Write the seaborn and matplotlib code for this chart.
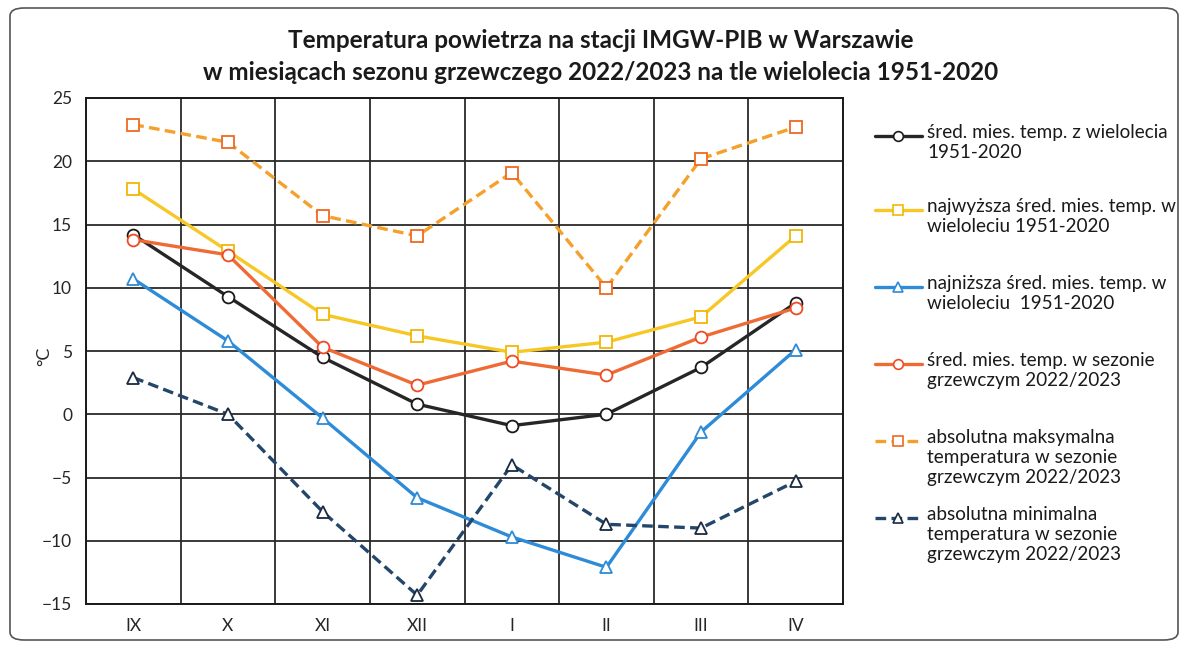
import numpy as np
import matplotlib
matplotlib.use('Agg')
import matplotlib.pyplot as plt
from matplotlib.lines import Line2D
from matplotlib.patches import FancyBboxPatch
import seaborn as sns

# dane
months = ['IX', 'X', 'XI', 'XII', 'I', 'II', 'III', 'IV']
mean_1951_2020 = [14.2, 9.3, 4.5, 0.8, -0.9, 0.0, 3.7, 8.8]
max_mean_1951_2020 = [17.8, 12.9, 7.9, 6.2, 4.9, 5.7, 7.7, 14.1]
min_mean_1951_2020 = [10.7, 5.8, -0.3, -6.6, -9.7, -12.1, -1.4, 5.1]
mean_2022_2023 = [13.8, 12.6, 5.3, 2.3, 4.2, 3.1, 6.1, 8.4]
abs_max_2022_2023 = [22.9, 21.5, 15.7, 14.1, 19.1, 10.0, 20.2, 22.7]
abs_min_2022_2023 = [2.9, 0.0, -7.7, -14.3, -4.0, -8.7, -9.0, -5.3]

labels = ['śred. mies. temp. z wielolecia\n1951-2020',
          'najwyższa śred. mies. temp. w\nwieloleciu 1951-2020',
          'najniższa śred. mies. temp. w\nwieloleciu  1951-2020',
          'śred. mies. temp. w sezonie\ngrzewczym 2022/2023',
          'absolutna maksymalna\ntemperatura w sezonie\ngrzewczym 2022/2023',
          'absolutna minimalna\ntemperatura w sezonie\ngrzewczym 2022/2023']

sns.set_style('white')
plt.rcParams['font.family'] = ['Lato', 'DejaVu Sans']

W, H = 1187, 648
fig = plt.figure(figsize=(W / 100, H / 100), dpi=100)
ax = fig.add_axes([86 / W, 1 - 604 / H, 757 / W, 506 / H])

x = np.arange(len(months))
dash = (0, (3.2, 1.6))

# (dane, kolor linii, kolor obwódki markera, marker, styl linii)
series = [
    (mean_1951_2020, '#262626', '#1a1a1a', 'o', '-'),
    (max_mean_1951_2020, '#F7C825', '#F2B705', 's', '-'),
    (min_mean_1951_2020, '#2D8BD8', '#2D8BD8', '^', '-'),
    (mean_2022_2023, '#EE6B35', '#EE4B22', 'o', '-'),
    (abs_max_2022_2023, '#F5A02A', '#EE6A22', 's', dash),
    (abs_min_2022_2023, '#24466B', '#1a2a40', '^', dash),
]

for vals, col, ecol, mk, ls in series:
    sns.lineplot(x=x, y=vals, ax=ax, color=col, linewidth=2.4, linestyle=ls,
                 marker=mk, markersize=8.5, markerfacecolor='white',
                 markeredgecolor=ecol, markeredgewidth=1.3, zorder=3)

ax.set_xlim(-0.5, len(months) - 0.5)
ax.set_ylim(-15, 25)
ax.set_yticks(np.arange(-15, 26, 5))
ax.set_xticks(x)
ax.set_xticklabels(months)
ax.set_xticks(np.arange(-0.5, len(months), 1), minor=True)
ax.grid(False)
ax.grid(True, which='minor', axis='x', color='#2a2a2a', linewidth=1.3)
ax.grid(True, which='major', axis='y', color='#2a2a2a', linewidth=1.3)
ax.tick_params(axis='both', which='both', length=0, labelsize=12.5, pad=10)
for s in ax.spines.values():
    s.set_color('#1a1a1a')
    s.set_linewidth(1.4)
ax.set_ylabel('°C', fontsize=13)
ax.yaxis.set_label_coords(-0.045, 0.49)

fig.text(0.506, 1 - 40 / H,
         'Temperatura powietrza na stacji IMGW-PIB w Warszawie',
         ha='center', va='center', fontsize=17.5, fontweight='bold', color='#1a1a1a')
fig.text(0.506, 1 - 72 / H,
         'w miesiącach sezonu grzewczego 2022/2023 na tle wielolecia 1951-2020',
         ha='center', va='center', fontsize=17.5, fontweight='bold', color='#1a1a1a')

# legenda rysowana ręcznie: znacznik na wysokości pierwszej linii opisu, jak w Excelu
entry_y = [136, 210, 287, 364, 441, 518]
for (vals, col, ecol, mk, ls), lab, yy in zip(series, labels, entry_y):
    yf = 1 - yy / H
    fig.add_artist(Line2D([875 / W, 898 / W, 922 / W], [yf, yf, yf],
                          transform=fig.transFigure, color=col, linewidth=2.4,
                          linestyle=ls, marker=mk, markevery=[1], markersize=7,
                          markerfacecolor='white', markeredgecolor=ecol,
                          markeredgewidth=1.2))
    fig.text(927 / W, 1 - (yy - 12) / H, lab, ha='left', va='top',
             fontsize=13.6, linespacing=1.2, color='#1a1a1a')

border = FancyBboxPatch((10 / W, 8 / H), 1168 / W, 632 / H,
                        boxstyle='round,pad=0,rounding_size=0.012',
                        transform=fig.transFigure, fill=False,
                        edgecolor='#555555', linewidth=1.2)
fig.patches.append(border)

fig.savefig('out.png', dpi=100)
